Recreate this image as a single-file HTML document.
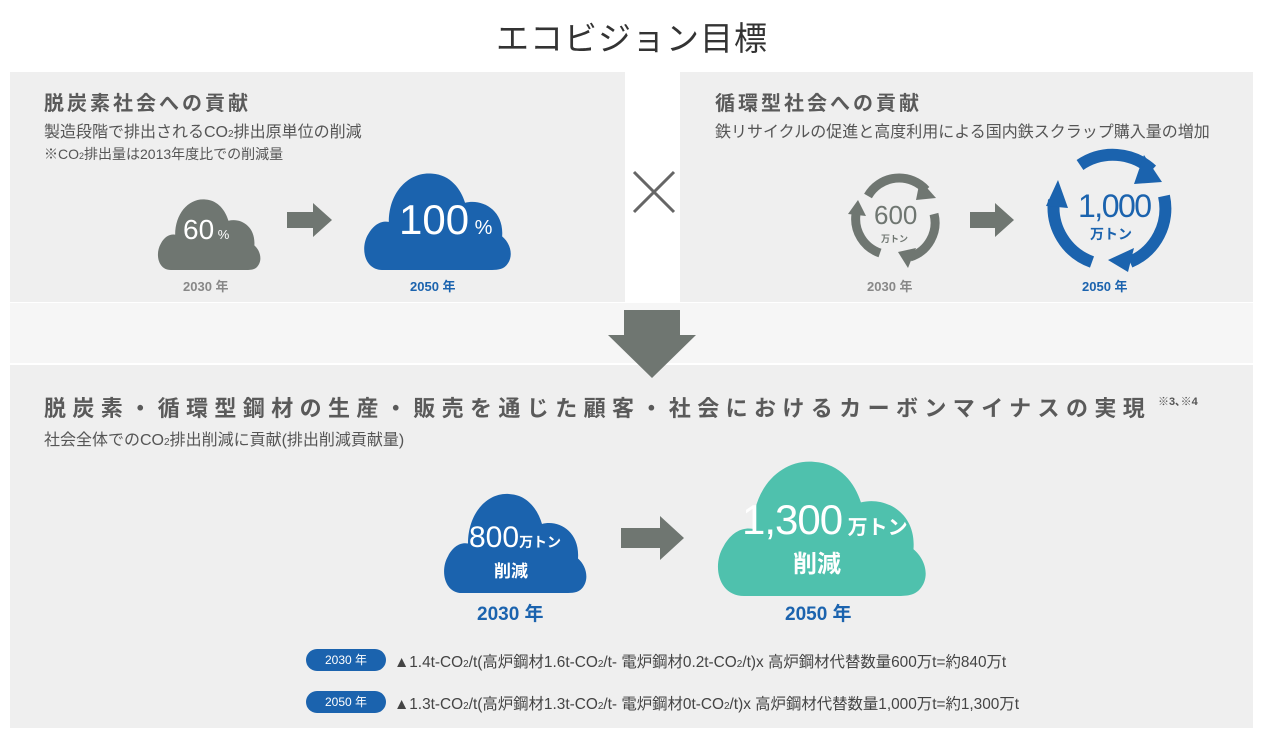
<!DOCTYPE html>
<html><head><meta charset="utf-8"><style>
body{margin:0;width:1264px;height:743px;background:#fff;position:relative;overflow:hidden;font-family:"Liberation Sans","Noto Sans CJK JP",sans-serif;color:#555}
.a{position:absolute;white-space:nowrap}
.p{position:absolute;background:#efefef}
.h{font-weight:bold;font-size:20px;letter-spacing:3px;color:#5a5a5a}
.s{font-size:16px;color:#555}
</style></head><body>
<div class="a" style="left:0;width:1264px;top:12px;text-align:center;font-size:33px;color:#333;letter-spacing:1px">エコビジョン目標</div>
<div class="p" style="left:10px;top:72px;width:615px;height:230px"></div>
<div class="p" style="left:680px;top:72px;width:573px;height:230px"></div>
<div class="p" style="left:10px;top:303px;width:1243px;height:60px;background:#f6f6f6"></div>
<div class="p" style="left:10px;top:365px;width:1243px;height:363px"></div>

<div class="a h" style="left:44px;top:87px">脱炭素社会への貢献</div>
<div class="a s" style="left:44px;top:118px">製造段階で排出されるCO<span style="font-size:10px">2</span>排出原単位の削減</div>
<div class="a" style="left:44px;top:144px;font-size:14px">※CO<span style="font-size:9px">2</span>排出量は2013年度比での削減量</div>
<div class="a h" style="left:715px;top:87px">循環型社会への貢献</div>
<div class="a s" style="left:715px;top:118px">鉄リサイクルの促進と高度利用による国内鉄スクラップ購入量の増加</div>

<svg class="a" style="left:0;top:0" width="1264" height="743">
<defs><path id="cl" d="M22,100 C4,100 0,80 8,68 C14,58 22,56 28,57 C28,30 48,12 70,14 C88,15 98,28 102,40 C118,36 140,46 138,70 C146,76 150,88 142,96 C138,100 132,100 126,100 Z"/></defs>
<use href="#cl" fill="#6f7671" transform="translate(155,188) scale(0.72,0.82)"/>
<use href="#cl" fill="#1b63ae" transform="translate(360,158) scale(1.03,1.12)"/>
<use href="#cl" fill="#1b63ae" transform="translate(440,478) scale(1.0,1.15)"/>
<use href="#cl" fill="#4fc1ad" transform="translate(712,440) scale(1.46,1.56)"/>
<polygon points="287,212 313,212 313,203 332,220 313,237 313,228 287,228" fill="#6f7671"/>
<polygon points="970,212 995,212 995,203 1014,220 995,237 995,228 970,228" fill="#6f7671"/>
<polygon points="621,528 660,528 660,516 684,538 660,560 660,548 621,548" fill="#6f7671"/>
<polygon points="624,310 680,310 680,335 696,335 652,378 608,335 624,335" fill="#6f7671"/>
<path d="M634,172 L674,212 M674,172 L634,212" stroke="#666" stroke-width="3"/>
<g fill="none" stroke="#6f7671" stroke-width="9">
<path d="M868,196 A36,36 0 0 1 926,190"/>
<path d="M934,214 A36,36 0 0 1 910,257"/>
<path d="M880,253 A36,36 0 0 1 856,214"/>
</g>
<g fill="#6f7671">
<polygon points="920,180 936,198 916,200"/>
<polygon points="916,248 908,268 898,252"/>
<polygon points="848,214 858,200 866,216"/>
</g>
<g fill="none" stroke="#1b63ae" stroke-width="12">
<path d="M1080,165 A58,58 0 0 1 1152,170"/>
<path d="M1164,196 A58,58 0 0 1 1130,262"/>
<path d="M1092,262 A58,58 0 0 1 1054,200"/>
</g>
<g fill="#1b63ae">
<polygon points="1144,155 1162,182 1134,184"/>
<polygon points="1134,248 1128,272 1108,260"/>
<polygon points="1046,206 1058,180 1068,208"/>
</g>
</svg>

<div class="a" style="left:183px;top:214px;font-size:28px;color:#fff">60<span style="font-size:13px"> %</span></div>
<div class="a" style="left:399px;top:196px;font-size:42px;color:#fff">100<span style="font-size:20px"> %</span></div>
<div class="a" style="left:183px;top:276px;font-size:13px;color:#888;font-weight:bold">2030 年</div>
<div class="a" style="left:410px;top:276px;font-size:13px;color:#1b63ae;font-weight:bold">2050 年</div>
<div class="a" style="left:874px;top:200px;font-size:26px;color:#6f7671">600</div>
<div class="a" style="left:881px;top:232px;font-size:9px;color:#6f7671;font-weight:bold">万トン</div>
<div class="a" style="left:1078px;top:188px;font-size:32px;color:#1b63ae;letter-spacing:-1.5px">1,000</div>
<div class="a" style="left:1090px;top:224px;font-size:14px;color:#1b63ae;font-weight:bold">万トン</div>
<div class="a" style="left:867px;top:276px;font-size:13px;color:#888;font-weight:bold">2030 年</div>
<div class="a" style="left:1082px;top:276px;font-size:13px;color:#1b63ae;font-weight:bold">2050 年</div>

<div class="a" style="left:44px;top:391px;font-weight:bold;font-size:22px;letter-spacing:6.4px;color:#5a5a5a">脱炭素・循環型鋼材の生産・販売を通じた顧客・社会におけるカーボンマイナスの実現</div>
<div class="a" style="left:1158px;top:393px;font-size:11px;font-weight:bold">※3､※4</div>
<div class="a s" style="left:44px;top:426px">社会全体でのCO<span style="font-size:10px">2</span>排出削減に貢献(排出削減貢献量)</div>

<div class="a" style="left:469px;top:521px;font-size:30px;color:#fff">800<span style="font-size:14px;font-weight:bold">万トン</span></div>
<div class="a" style="left:494px;top:557px;font-size:17px;color:#fff;font-weight:bold">削減</div>
<div class="a" style="left:742px;top:496px;font-size:42px;color:#fff;letter-spacing:-1px">1,300<span style="font-size:20px;font-weight:bold;letter-spacing:0"> 万トン</span></div>
<div class="a" style="left:793px;top:544px;font-size:24px;color:#fff;font-weight:bold">削減</div>
<div class="a" style="left:477px;top:599px;font-size:19px;color:#1b63ae;font-weight:bold">2030 年</div>
<div class="a" style="left:785px;top:599px;font-size:19px;color:#1b63ae;font-weight:bold">2050 年</div>

<div class="a" style="left:306px;top:649px;width:80px;height:22px;background:#1b63ae;border-radius:11px;color:#fff;font-size:12px;line-height:22px;text-align:center">2030 年</div>
<div class="a" style="left:394px;top:650px;font-size:15.4px;color:#444">▲1.4t-CO<span style="font-size:10px">2</span>/t(高炉鋼材1.6t-CO<span style="font-size:10px">2</span>/t- 電炉鋼材0.2t-CO<span style="font-size:10px">2</span>/t)x 高炉鋼材代替数量600万t=約840万t</div>
<div class="a" style="left:306px;top:691px;width:80px;height:22px;background:#1b63ae;border-radius:11px;color:#fff;font-size:12px;line-height:22px;text-align:center">2050 年</div>
<div class="a" style="left:394px;top:692px;font-size:15.4px;color:#444">▲1.3t-CO<span style="font-size:10px">2</span>/t(高炉鋼材1.3t-CO<span style="font-size:10px">2</span>/t- 電炉鋼材0t-CO<span style="font-size:10px">2</span>/t)x 高炉鋼材代替数量1,000万t=約1,300万t</div>
</body></html>
